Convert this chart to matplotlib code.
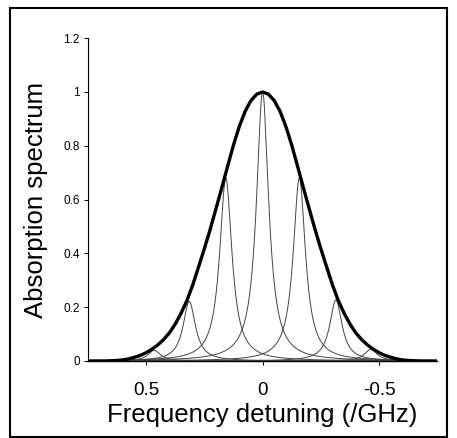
import matplotlib
matplotlib.use("Agg")
import matplotlib.pyplot as plt
import numpy as np
from matplotlib.patches import Rectangle

plt.rcParams['font.family'] = ['Liberation Sans', 'DejaVu Sans']

# envelope (thick curve), symmetric about 0
env_x = [0.0, 0.025, 0.05, 0.075, 0.10, 0.125, 0.15, 0.175, 0.20, 0.225,
         0.25, 0.275, 0.30, 0.325, 0.35, 0.375, 0.40, 0.425, 0.45, 0.475,
         0.50, 0.525, 0.55, 0.575, 0.60, 0.625, 0.65, 0.675, 0.75]
env_y = [1.0, 0.992, 0.968, 0.928, 0.872, 0.803, 0.725, 0.645, 0.567, 0.490,
         0.418, 0.350, 0.283, 0.225, 0.178, 0.138, 0.105, 0.080, 0.060, 0.044,
         0.031, 0.021, 0.014, 0.008, 0.004, 0.002, 0.001, 0.0, 0.0]

# individual lines: centre, peak height, half width
line_centres = [0.465, 0.315, 0.158, 0.0, -0.158, -0.315, -0.465]
line_heights = [0.04, 0.222, 0.68, 1.0, 0.68, 0.227, 0.044]
line_hwhm = 0.032

fig = plt.figure(figsize=(4.57, 4.38), dpi=100)
ax = fig.add_axes([0.1926, 0.1758, 0.764, 0.737])

xs = np.linspace(-0.75, 0.75, 1501)
for c, h in zip(line_centres, line_heights):
    ax.plot(xs, h / (1 + ((xs - c) / line_hwhm) ** 2), color='#444444', lw=0.7)

ex = np.array(env_x)
ey = np.array(env_y)
ax.plot(np.concatenate([-ex[::-1], ex[1:]]), np.concatenate([ey[::-1], ey[1:]]),
        color='black', lw=2.4, solid_joinstyle='round')

ax.set_xlim(0.75, -0.75)
ax.set_ylim(0, 1.2)
ax.spines['top'].set_visible(False)
ax.spines['right'].set_visible(False)
ax.spines['left'].set_linewidth(0.8)
ax.spines['bottom'].set_linewidth(1.0)

ax.set_yticks([0, 0.2, 0.4, 0.6, 0.8, 1.0, 1.2])
ax.set_yticklabels(['0', '0.2', '0.4', '0.6', '0.8', '1', '1.2'])
ax.set_xticks([0.5, 0, -0.5])
ax.set_xticklabels(['0.5', '0', '-0.5'])
ax.tick_params(axis='y', labelsize=8.5, length=3, width=0.7, pad=3)
ax.tick_params(axis='x', labelsize=13.5, length=3, width=0.7, pad=12)

ax.set_xlabel('Frequency detuning (/GHz)', fontsize=18.5, labelpad=3)
ax.set_ylabel('Absorption spectrum', fontsize=18.5, labelpad=11)

fig.patches.append(Rectangle((10 / 457, 1 / 438), 437 / 457, 429 / 438,
                             transform=fig.transFigure, fill=False,
                             edgecolor='black', lw=1.5))

fig.savefig('out.png', dpi=100)
